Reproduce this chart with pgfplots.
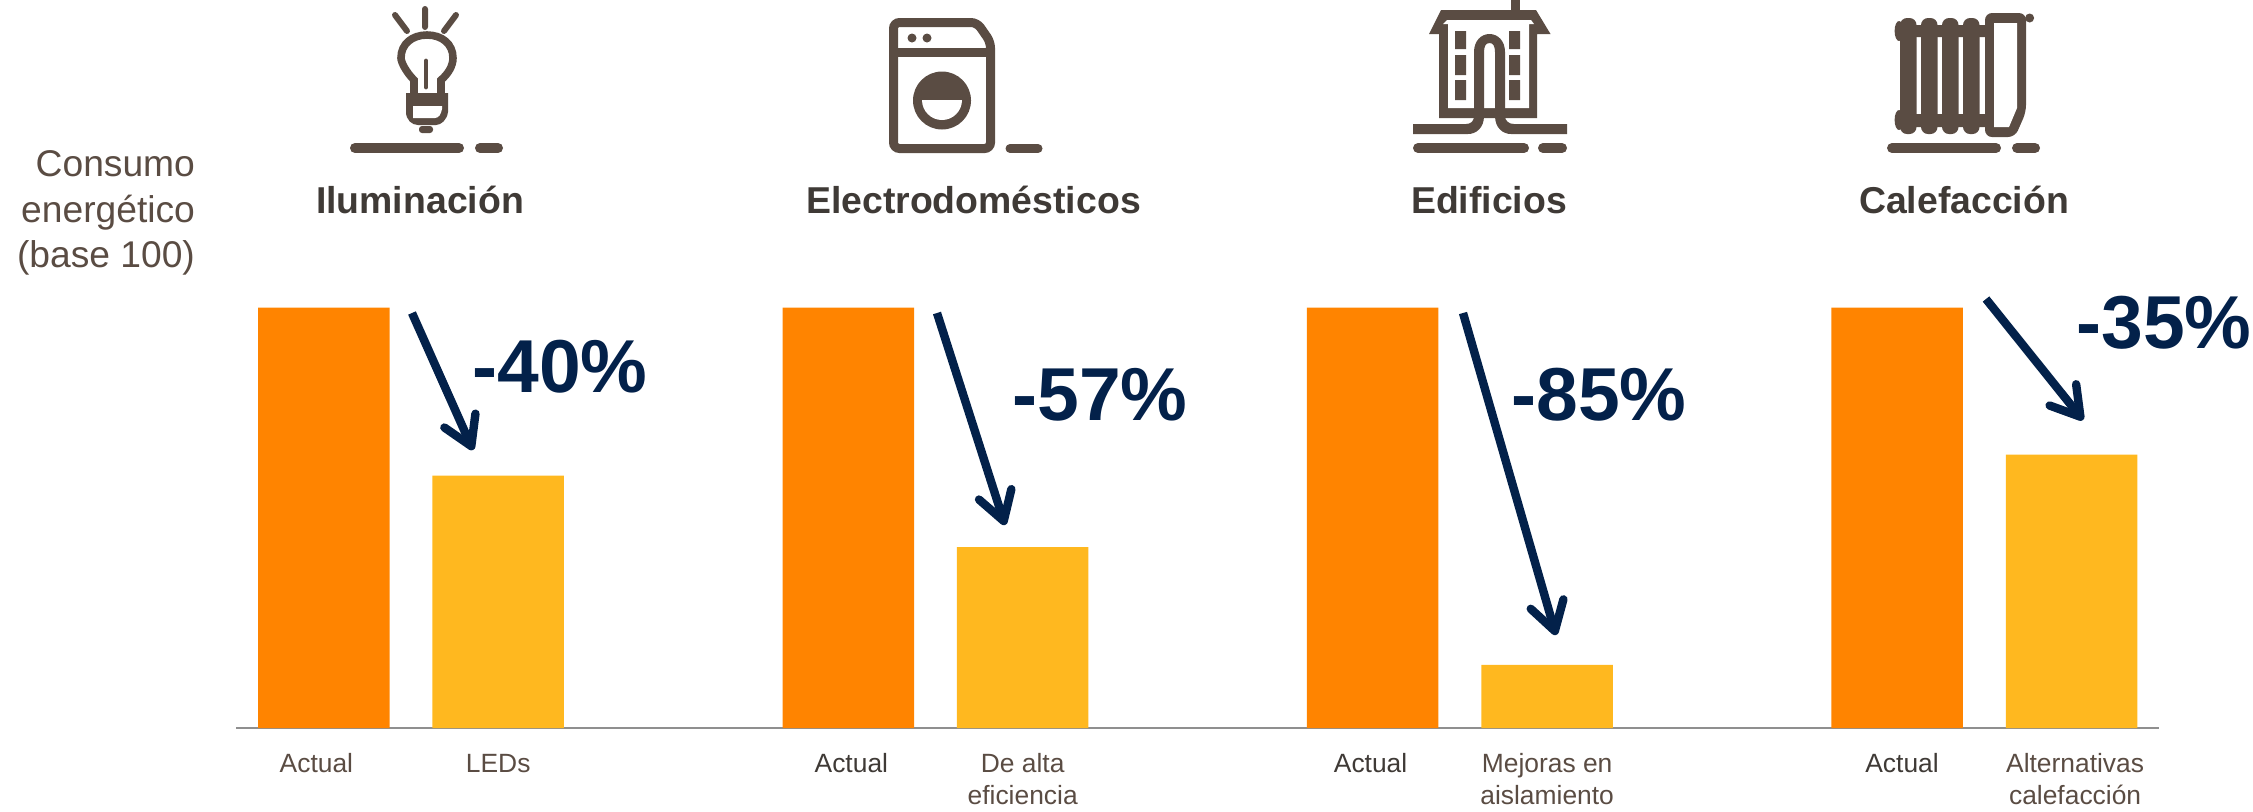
\documentclass[border=0pt]{standalone}
\usepackage{pgfplots}
\pgfplotsset{compat=1.18}
\usepackage{fontspec}
\setmainfont{Liberation Sans}
\usetikzlibrary{arrows.meta}
\definecolor{brn}{HTML}{5A4C43}
\definecolor{dk}{HTML}{3F3A36}
\definecolor{org}{HTML}{FF8400}
\definecolor{yel}{HTML}{FFB81F}
\definecolor{nav}{HTML}{03214A}
\definecolor{axg}{HTML}{8F8F8F}
\begin{document}
\begin{tikzpicture}
\path[use as bounding box] (0,0) rectangle (1126.5pt,-405.5pt);
\begin{axis}[
  at={(118pt,-364pt)}, anchor=south west,
  scale only axis, width=961.5pt, height=210.25pt,
  xmin=-0.5, xmax=10.5, ymin=0, ymax=100,
  axis x line=bottom, axis y line=none,
  x axis line style={-, draw=axg, line width=1.2pt},
  ybar, bar width=65.75pt,
  xtick={-0.04,1,3.02,4,5.99,7,9.03,10.02},
  xticklabels={Actual,LEDs,\textcolor{dk}{Actual},{De alta\\eficiencia},\textcolor{dk}{Actual},{Mejoras en\\aislamiento},\textcolor{dk}{Actual},{Alternativas\\calefacción}},
  major tick length=0pt,
  xticklabel style={align=center, text=brn, font=\fontsize{13.2}{15.8}\selectfont, anchor=north, yshift=-7.6pt},
  typeset ticklabels with strut,
]
\addplot[fill=org, draw=none, bar shift=0.2pt] coordinates {(0,100) (3,100) (6,100) (9,100)};
\addplot[fill=yel, draw=none, bar shift=0pt] coordinates {(1,60) (4,43) (7,15) (10,65)};
\end{axis}
\begin{scope}[x=0.5pt,y=-0.5pt]
% y-axis caption
\node[anchor=east, align=right, text=brn, font=\fontsize{18.6}{22.6}\selectfont] at (202,213) {Consumo\\energético\\(base 100)};
% titles
\foreach \px/\t in {420/Iluminación,973.5/Electrodomésticos,1489/Edificios,1964/Calefacción}
  \node[text=dk, font=\fontsize{18.7}{22}\bfseries\selectfont] at (\px,200) {\t};
% percents
\foreach \px/\py/\t in {560/367/-40\%,1100/395/-57\%,1599/395/-85\%,2164/323/-35\%}
  \node[text=nav, font=\fontsize{37.5}{40}\bfseries\selectfont] at (\px,\py) {\t};
% arrows
\foreach \ax/\ay/\bx/\by in {412/313/473/450, 937/313/1005/525, 1463/313/1556/635, 1986/299/2083/420}
  \draw[nav, line width=4.2pt, -{Straight Barb[length=14pt,width=17pt,round]}] (\ax,\ay) -- (\bx,\by);
\begin{scope}[brn]
% --- bulb
\draw[line width=5pt, line cap=round] (355,148)--(459,148) (480,148)--(498,148);
\draw[line width=3pt, line cap=round] (425,9)--(425,27) (395,15)--(407,31) (456,15)--(444,31);
\draw[line width=3.8pt] (414,94)--(414,80) .. controls (406,72) and (401,62) .. (401,58) .. controls (401,44) and (412,35) .. (427,35) .. controls (442,35) and (453,44) .. (453,58) .. controls (453,66) and (448,74) .. (441,80) -- (441,94);
\draw[line width=2.4pt, line cap=round] (426,61)--(426,87);
\fill (406,93)--(448,93)--(448,112) .. controls (447,120) and (441,125) .. (436,125) -- (418,125) .. controls (412,125) and (406,120) .. (406,112) -- cycle;
\fill[white] (413,106)--(442,106)--(442,109) .. controls (441,114) and (439,118) .. (435,118) -- (413,118) -- cycle;
\fill[rounded corners=1.5pt] (419,126) rectangle (433,133);
% --- washer
\draw[line width=4.5pt, rounded corners=3pt] (893.5,148.5)--(893.5,22.5)--(977,22.5)--(990.5,42)--(990.5,148.5)--cycle;
\draw[line width=4.5pt] (893,52.5)--(990,52.5);
\fill (912,38) circle (4.5) (927,38) circle (4.5);
\fill (942,100.5) circle (14.5pt);
\fill[white] (922,100) arc[start angle=180,end angle=360,x radius=10pt,y radius=10pt] -- cycle;
\draw[line width=4.5pt, line cap=round] (1010,148.5)--(1038,148.5);
% --- building
\fill (1511,0) rectangle (1520,10);
\fill (1441,10)--(1536,10)--(1550.5,34)--(1537,34)--(1537,118)--(1439,118)--(1439,34)--(1429,34)--cycle;
\fill[white] (1447,20)--(1531,20)--(1534,24)--(1529,24)--(1529,108)--(1448,108)--(1448,24)--(1443,24)--cycle;
\fill (1455,31) rectangle (1466,49) (1455,55) rectangle (1466,75) (1455,80) rectangle (1466,100);
\fill (1509,31) rectangle (1520,49) (1509,55) rectangle (1520,75) (1509,80) rectangle (1520,100);
\fill (1474,110)--(1474,52) .. controls (1474,41) and (1481,34) .. (1489.5,34) .. controls (1498,34) and (1505,41) .. (1505,52) -- (1505,110) -- (1495,110) -- (1495,52) .. controls (1495,46) and (1493,43) .. (1489.5,43) .. controls (1486,43) and (1484,46) .. (1484,52) -- (1484,110) -- cycle;
\fill (1413,124)--(1466,124) .. controls (1471,124) and (1474,121) .. (1474,116) -- (1484,116) .. controls (1484,128) and (1476,134) .. (1468,134) -- (1413,134) -- cycle;
\fill (1567,124)--(1514,124) .. controls (1509,124) and (1505,121) .. (1505,116) -- (1495,116) .. controls (1495,128) and (1503,134) .. (1511,134) -- (1567,134) -- cycle;
\draw[line width=5pt, line cap=round] (1418,148)--(1524,148) (1543,148)--(1562,148);
% --- radiator
\foreach \cx in {1900,1921,1942,1963}
  \fill[rounded corners=3.5pt] (\cx,18) rectangle (\cx+16.5,134);
\fill (1900,25) rectangle (1988,37) (1900,114) rectangle (1988,127);
\fill (1899,31) ellipse (2.2pt and 5pt) (1899,120) ellipse (2.2pt and 5pt);
\fill[rounded corners=3.5pt] (1985,13)--(2026,13)--(2026,112)--(2015,137)--(1985,137)--cycle;
\fill[white] (1994,23)--(2017,23)--(2017,108)--(2009,127)--(1994,127)--cycle;
\fill (2029.6,18) circle (4.5);
\draw[line width=5pt, line cap=round] (1892,148)--(1996,148) (2017,148)--(2035,148);
\end{scope}
\end{scope}
\end{tikzpicture}
\end{document}
